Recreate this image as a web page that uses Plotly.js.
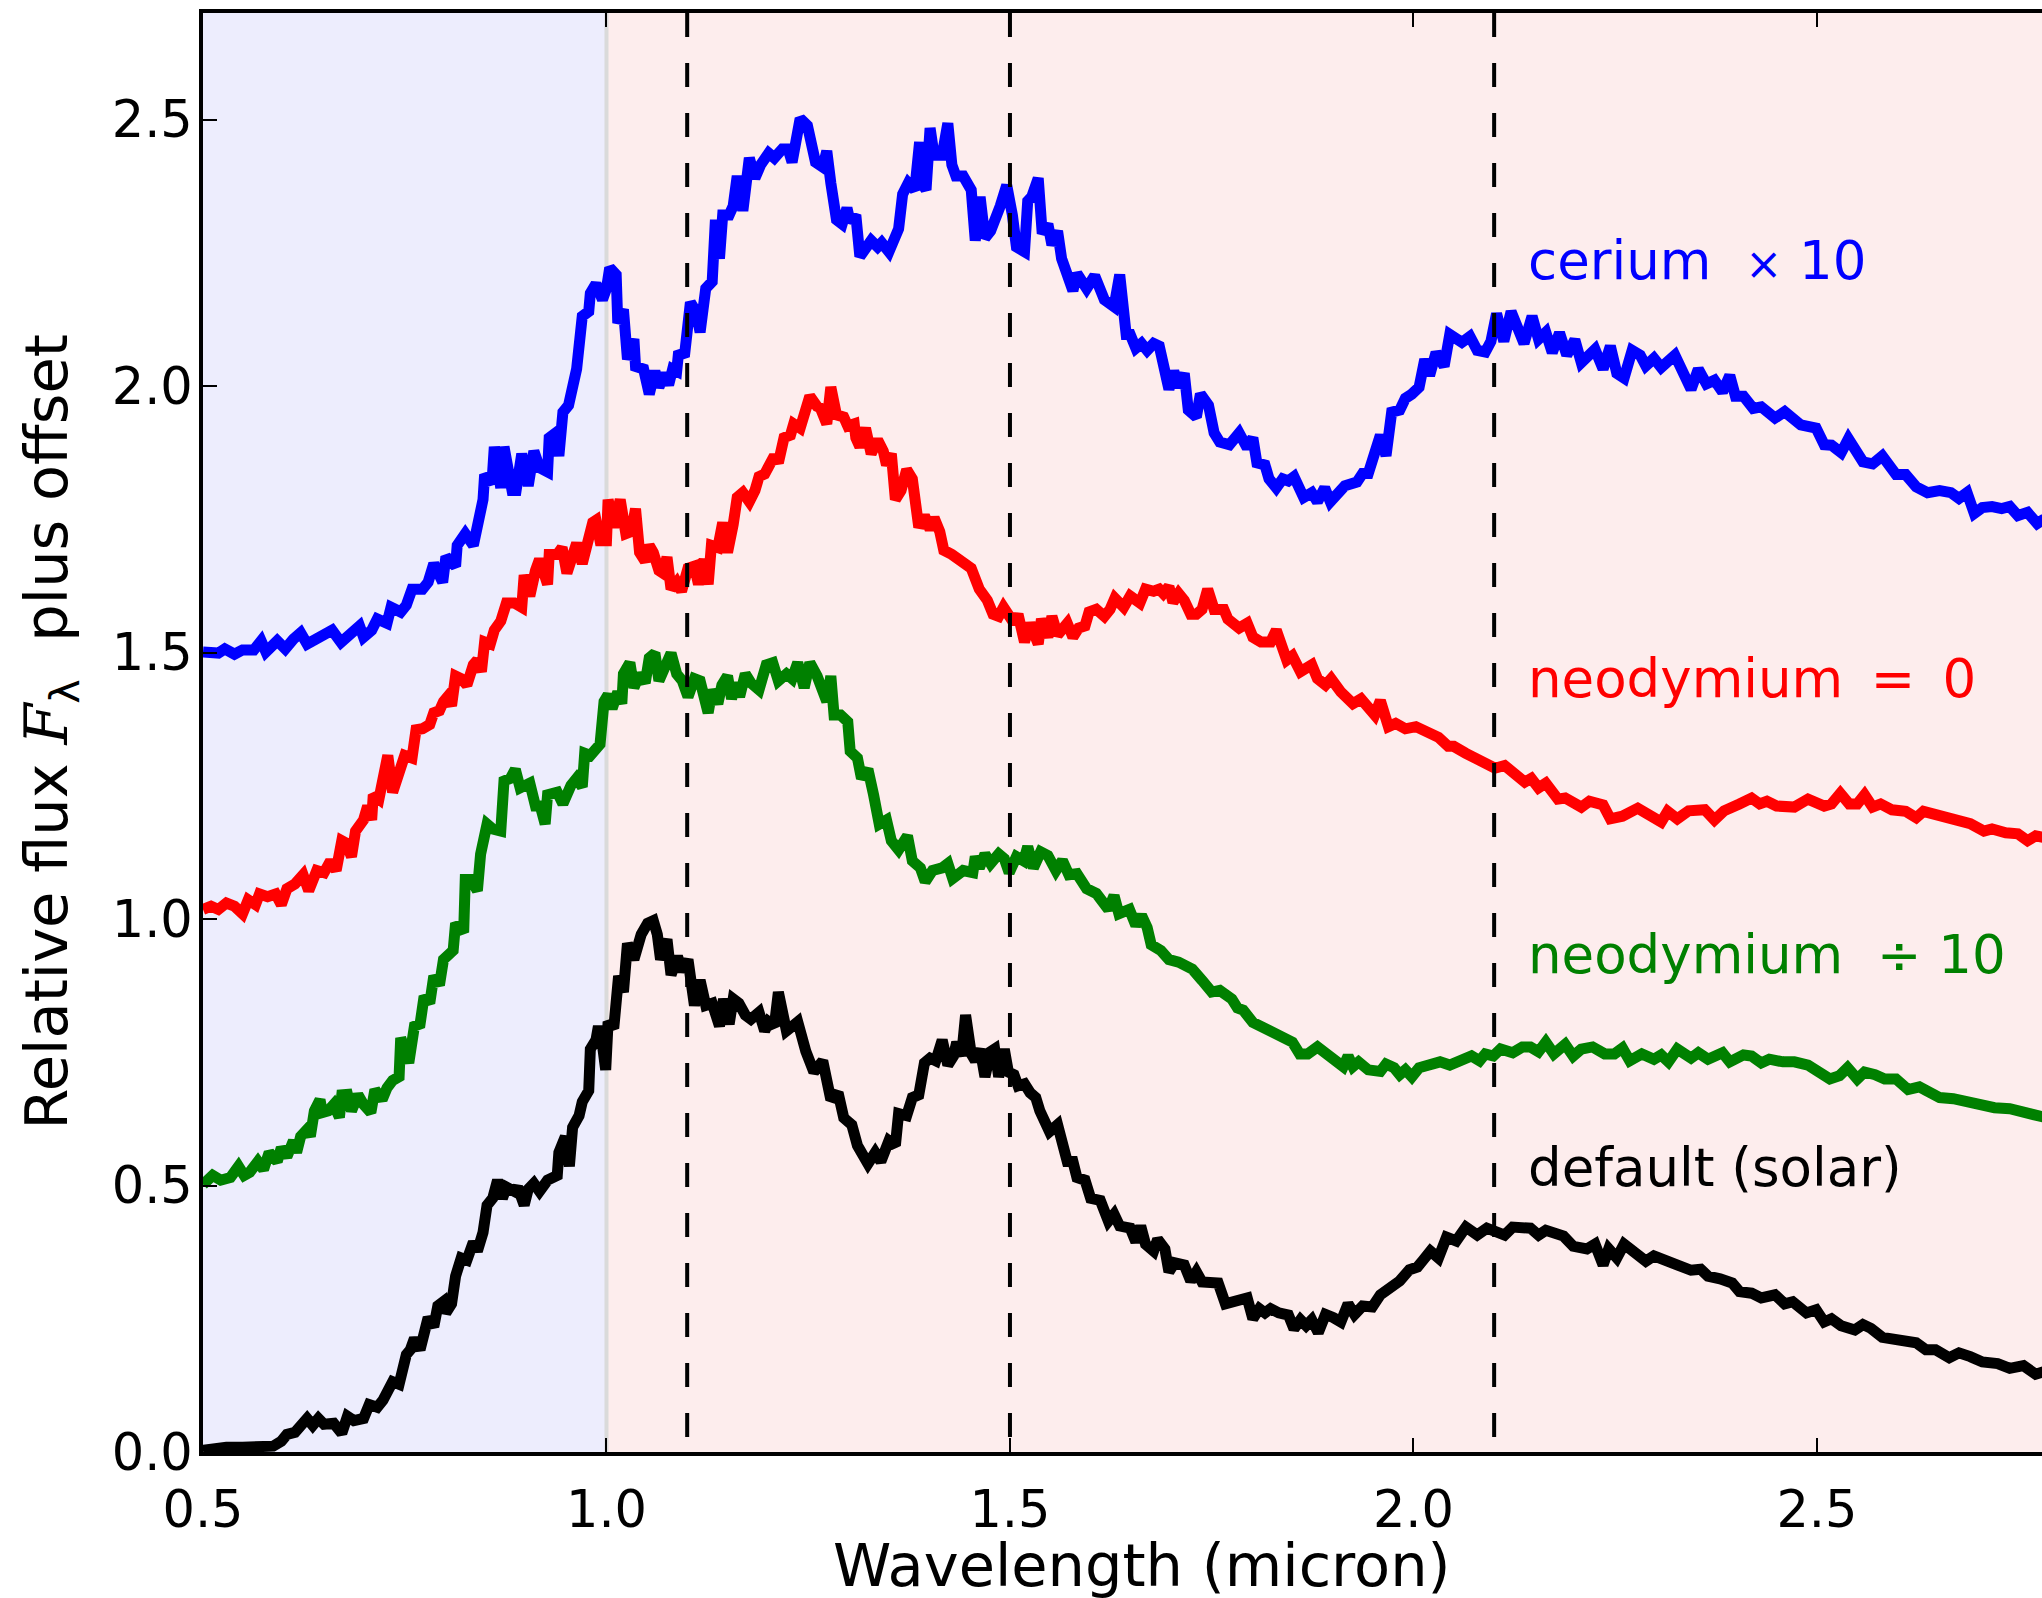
<!DOCTYPE html>
<html>
<head>
<meta charset="utf-8">
<script src="https://cdn.plot.ly/plotly-3.0.1.min.js"></script>
<style>
html,body{margin:0;padding:0;overflow:hidden;background:#fff;}
#chart{width:2080px;height:1598px;}
</style>
</head>
<body>
<div id="chart"></div>
<script>
// ---- data (wavelength in micron, relative flux plus offset) ----
const cerium = [[0.500,1.501],[0.519,1.499],[0.527,1.507],[0.539,1.497],[0.549,1.505],[0.563,1.505],[0.572,1.522],[0.578,1.501],[0.592,1.522],[0.602,1.507],[0.612,1.525],[0.621,1.537],[0.629,1.516],[0.641,1.527],[0.660,1.542],[0.671,1.519],[0.684,1.533],[0.694,1.550],[0.699,1.529],[0.709,1.542],[0.716,1.563],[0.728,1.555],[0.733,1.585],[0.745,1.576],[0.752,1.589],[0.759,1.619],[0.772,1.619],[0.779,1.632],[0.786,1.667],[0.797,1.632],[0.801,1.680],[0.813,1.662],[0.815,1.701],[0.825,1.723],[0.835,1.701],[0.840,1.731],[0.847,1.787],[0.849,1.834],[0.858,1.817],[0.861,1.886],[0.869,1.809],[0.873,1.886],[0.883,1.804],[0.888,1.804],[0.895,1.873],[0.903,1.813],[0.910,1.878],[0.917,1.847],[0.927,1.839],[0.929,1.903],[0.937,1.912],[0.941,1.869],[0.946,1.951],[0.953,1.964],[0.958,1.994],[0.963,2.032],[0.970,2.131],[0.978,2.140],[0.980,2.174],[0.987,2.192],[0.995,2.162],[1.000,2.183],[1.004,2.222],[1.012,2.209],[1.014,2.118],[1.021,2.144],[1.026,2.050],[1.034,2.088],[1.036,2.037],[1.046,2.032],[1.053,1.985],[1.060,2.028],[1.065,1.998],[1.072,2.024],[1.077,2.002],[1.082,2.032],[1.087,2.028],[1.089,2.058],[1.097,2.062],[1.104,2.157],[1.111,2.140],[1.116,2.101],[1.123,2.183],[1.131,2.196],[1.135,2.312],[1.140,2.239],[1.144,2.321],[1.152,2.321],[1.157,2.338],[1.162,2.394],[1.169,2.329],[1.177,2.428],[1.184,2.390],[1.191,2.415],[1.201,2.437],[1.208,2.428],[1.218,2.445],[1.225,2.445],[1.230,2.420],[1.240,2.502],[1.249,2.489],[1.259,2.420],[1.268,2.411],[1.273,2.441],[1.278,2.381],[1.285,2.312],[1.292,2.304],[1.298,2.334],[1.302,2.308],[1.309,2.321],[1.314,2.243],[1.321,2.256],[1.328,2.273],[1.336,2.261],[1.341,2.269],[1.350,2.252],[1.358,2.286],[1.362,2.295],[1.367,2.360],[1.374,2.381],[1.382,2.368],[1.388,2.458],[1.391,2.381],[1.396,2.368],[1.401,2.484],[1.406,2.433],[1.416,2.433],[1.423,2.493],[1.428,2.415],[1.433,2.394],[1.442,2.394],[1.447,2.377],[1.452,2.368],[1.457,2.273],[1.463,2.355],[1.469,2.278],[1.476,2.291],[1.488,2.338],[1.496,2.377],[1.503,2.321],[1.508,2.261],[1.518,2.252],[1.522,2.347],[1.527,2.355],[1.535,2.390],[1.540,2.286],[1.547,2.304],[1.552,2.265],[1.559,2.291],[1.564,2.239],[1.571,2.209],[1.578,2.179],[1.583,2.211],[1.595,2.183],[1.605,2.207],[1.617,2.162],[1.629,2.149],[1.636,2.209],[1.644,2.097],[1.649,2.097],[1.656,2.071],[1.663,2.080],[1.670,2.067],[1.678,2.080],[1.685,2.075],[1.690,2.045],[1.697,1.994],[1.703,2.028],[1.709,1.998],[1.716,2.024],[1.721,1.955],[1.731,1.942],[1.736,1.985],[1.746,1.964],[1.753,1.912],[1.760,1.895],[1.772,1.890],[1.784,1.912],[1.794,1.884],[1.801,1.903],[1.806,1.856],[1.816,1.852],[1.821,1.826],[1.830,1.809],[1.838,1.826],[1.845,1.822],[1.852,1.830],[1.864,1.791],[1.874,1.800],[1.881,1.783],[1.890,1.809],[1.897,1.783],[1.906,1.796],[1.915,1.813],[1.930,1.820],[1.937,1.836],[1.944,1.836],[1.952,1.873],[1.959,1.908],[1.966,1.869],[1.973,1.951],[1.983,1.955],[1.990,1.977],[1.998,1.985],[2.007,1.998],[2.014,2.050],[2.020,2.020],[2.028,2.063],[2.038,2.037],[2.045,2.097],[2.060,2.082],[2.070,2.093],[2.079,2.067],[2.089,2.064],[2.096,2.084],[2.103,2.136],[2.112,2.084],[2.121,2.140],[2.137,2.080],[2.147,2.131],[2.155,2.088],[2.164,2.101],[2.172,2.063],[2.181,2.100],[2.190,2.058],[2.200,2.087],[2.208,2.044],[2.225,2.069],[2.235,2.032],[2.244,2.075],[2.252,2.024],[2.261,2.015],[2.271,2.067],[2.281,2.058],[2.288,2.038],[2.298,2.052],[2.307,2.035],[2.324,2.058],[2.334,2.024],[2.344,1.994],[2.353,2.032],[2.363,2.004],[2.373,2.011],[2.383,1.989],[2.392,2.020],[2.399,1.981],[2.409,1.981],[2.421,1.958],[2.431,1.961],[2.448,1.940],[2.460,1.952],[2.480,1.927],[2.499,1.921],[2.509,1.890],[2.518,1.889],[2.530,1.875],[2.539,1.901],[2.557,1.858],[2.569,1.854],[2.581,1.869],[2.598,1.834],[2.610,1.834],[2.623,1.811],[2.637,1.800],[2.652,1.804],[2.666,1.800],[2.676,1.789],[2.686,1.800],[2.695,1.761],[2.705,1.772],[2.717,1.774],[2.729,1.770],[2.739,1.774],[2.749,1.757],[2.761,1.763],[2.773,1.742],[2.782,1.751]];

const neodymiumZero = [[0.500,1.018],[0.510,1.024],[0.519,1.018],[0.529,1.030],[0.539,1.024],[0.549,1.010],[0.556,1.036],[0.565,1.027],[0.570,1.047],[0.580,1.042],[0.590,1.047],[0.597,1.027],[0.604,1.057],[0.614,1.066],[0.624,1.083],[0.631,1.053],[0.641,1.091],[0.650,1.087],[0.658,1.109],[0.665,1.091],[0.672,1.147],[0.677,1.143],[0.684,1.117],[0.689,1.165],[0.699,1.186],[0.704,1.212],[0.709,1.186],[0.711,1.233],[0.718,1.225],[0.723,1.264],[0.729,1.307],[0.735,1.238],[0.743,1.285],[0.750,1.307],[0.759,1.302],[0.764,1.355],[0.772,1.357],[0.781,1.365],[0.786,1.387],[0.793,1.391],[0.798,1.408],[0.803,1.417],[0.808,1.400],[0.813,1.456],[0.820,1.451],[0.827,1.439],[0.835,1.477],[0.840,1.486],[0.845,1.464],[0.849,1.520],[0.856,1.516],[0.861,1.542],[0.869,1.559],[0.876,1.593],[0.886,1.593],[0.895,1.585],[0.898,1.645],[0.905,1.606],[0.912,1.654],[0.917,1.675],[0.927,1.628],[0.929,1.684],[0.939,1.684],[0.945,1.697],[0.951,1.649],[0.958,1.692],[0.963,1.705],[0.970,1.667],[0.975,1.701],[0.983,1.744],[0.987,1.748],[0.992,1.710],[1.000,1.710],[1.002,1.787],[1.009,1.735],[1.017,1.787],[1.024,1.723],[1.031,1.727],[1.036,1.770],[1.041,1.688],[1.048,1.671],[1.053,1.701],[1.058,1.688],[1.065,1.654],[1.070,1.649],[1.075,1.679],[1.080,1.619],[1.087,1.632],[1.093,1.615],[1.101,1.658],[1.109,1.662],[1.114,1.628],[1.121,1.675],[1.126,1.628],[1.130,1.701],[1.138,1.697],[1.144,1.744],[1.150,1.688],[1.157,1.740],[1.162,1.791],[1.169,1.800],[1.177,1.783],[1.184,1.804],[1.189,1.830],[1.196,1.835],[1.201,1.852],[1.208,1.869],[1.213,1.856],[1.220,1.903],[1.228,1.908],[1.232,1.929],[1.240,1.921],[1.245,1.942],[1.252,1.981],[1.261,1.962],[1.265,1.959],[1.273,1.929],[1.278,1.998],[1.285,1.946],[1.294,1.942],[1.299,1.925],[1.307,1.929],[1.309,1.903],[1.314,1.886],[1.321,1.921],[1.328,1.873],[1.336,1.899],[1.343,1.878],[1.347,1.852],[1.353,1.873],[1.358,1.787],[1.365,1.804],[1.372,1.843],[1.379,1.826],[1.387,1.735],[1.394,1.757],[1.401,1.731],[1.406,1.753],[1.413,1.727],[1.418,1.692],[1.428,1.684],[1.438,1.671],[1.452,1.658],[1.462,1.619],[1.472,1.598],[1.479,1.572],[1.486,1.568],[1.492,1.585],[1.498,1.568],[1.505,1.555],[1.510,1.572],[1.518,1.520],[1.525,1.555],[1.535,1.516],[1.539,1.563],[1.547,1.529],[1.552,1.568],[1.559,1.533],[1.571,1.555],[1.578,1.529],[1.585,1.546],[1.593,1.550],[1.598,1.576],[1.607,1.581],[1.617,1.568],[1.624,1.581],[1.630,1.602],[1.641,1.585],[1.649,1.606],[1.661,1.593],[1.668,1.619],[1.678,1.615],[1.685,1.619],[1.690,1.611],[1.697,1.624],[1.702,1.594],[1.709,1.611],[1.716,1.598],[1.724,1.572],[1.731,1.572],[1.738,1.581],[1.745,1.619],[1.753,1.581],[1.765,1.581],[1.770,1.563],[1.784,1.546],[1.794,1.555],[1.801,1.529],[1.811,1.520],[1.823,1.520],[1.830,1.542],[1.843,1.486],[1.850,1.494],[1.860,1.464],[1.874,1.477],[1.881,1.451],[1.891,1.439],[1.898,1.451],[1.910,1.426],[1.925,1.404],[1.935,1.413],[1.944,1.400],[1.952,1.383],[1.959,1.410],[1.969,1.361],[1.978,1.367],[1.990,1.357],[2.003,1.361],[2.020,1.350],[2.031,1.341],[2.043,1.324],[2.050,1.324],[2.065,1.311],[2.079,1.301],[2.091,1.288],[2.101,1.283],[2.113,1.288],[2.125,1.276],[2.138,1.257],[2.146,1.264],[2.155,1.246],[2.164,1.255],[2.179,1.225],[2.188,1.227],[2.208,1.210],[2.218,1.221],[2.235,1.214],[2.244,1.188],[2.259,1.193],[2.278,1.208],[2.293,1.195],[2.307,1.182],[2.315,1.202],[2.327,1.188],[2.341,1.203],[2.361,1.205],[2.373,1.186],[2.385,1.203],[2.404,1.216],[2.419,1.227],[2.429,1.216],[2.438,1.221],[2.450,1.212],[2.472,1.210],[2.489,1.225],[2.509,1.212],[2.518,1.216],[2.529,1.236],[2.540,1.216],[2.550,1.216],[2.559,1.233],[2.569,1.210],[2.579,1.216],[2.593,1.205],[2.610,1.202],[2.623,1.190],[2.632,1.202],[2.652,1.195],[2.666,1.192],[2.690,1.179],[2.707,1.165],[2.717,1.169],[2.734,1.162],[2.749,1.160],[2.761,1.147],[2.771,1.156],[2.782,1.153]];

const neodymiumDiv10 = [[0.500,0.502],[0.512,0.519],[0.522,0.510],[0.534,0.515],[0.544,0.536],[0.551,0.519],[0.558,0.525],[0.568,0.545],[0.575,0.530],[0.582,0.562],[0.592,0.545],[0.597,0.571],[0.604,0.554],[0.612,0.584],[0.616,0.562],[0.621,0.592],[0.629,0.605],[0.633,0.592],[0.638,0.640],[0.645,0.661],[0.648,0.637],[0.655,0.640],[0.662,0.652],[0.669,0.628],[0.672,0.670],[0.679,0.671],[0.684,0.640],[0.692,0.670],[0.699,0.652],[0.708,0.637],[0.713,0.680],[0.722,0.661],[0.728,0.683],[0.735,0.697],[0.743,0.704],[0.745,0.777],[0.750,0.756],[0.755,0.730],[0.762,0.799],[0.769,0.803],[0.774,0.855],[0.781,0.842],[0.786,0.893],[0.793,0.876],[0.798,0.924],[0.810,0.941],[0.813,0.992],[0.823,0.975],[0.825,1.074],[0.832,1.074],[0.840,1.053],[0.844,1.122],[0.852,1.178],[0.859,1.169],[0.869,1.165],[0.873,1.259],[0.881,1.264],[0.887,1.281],[0.893,1.246],[0.905,1.255],[0.912,1.212],[0.918,1.212],[0.924,1.178],[0.927,1.233],[0.939,1.238],[0.946,1.216],[0.956,1.251],[0.963,1.264],[0.970,1.248],[0.973,1.311],[0.980,1.307],[0.987,1.324],[0.992,1.328],[0.997,1.408],[1.002,1.421],[1.007,1.395],[1.014,1.426],[1.019,1.404],[1.021,1.460],[1.029,1.481],[1.034,1.434],[1.041,1.460],[1.048,1.443],[1.053,1.490],[1.060,1.499],[1.065,1.447],[1.072,1.477],[1.080,1.499],[1.087,1.460],[1.094,1.447],[1.101,1.417],[1.109,1.451],[1.116,1.447],[1.126,1.387],[1.131,1.430],[1.138,1.404],[1.143,1.439],[1.150,1.456],[1.155,1.413],[1.160,1.443],[1.165,1.417],[1.172,1.460],[1.179,1.443],[1.189,1.430],[1.198,1.477],[1.206,1.481],[1.213,1.447],[1.223,1.460],[1.230,1.451],[1.237,1.481],[1.245,1.434],[1.252,1.481],[1.261,1.456],[1.268,1.426],[1.273,1.408],[1.278,1.456],[1.282,1.383],[1.290,1.383],[1.299,1.370],[1.302,1.315],[1.311,1.302],[1.316,1.264],[1.324,1.281],[1.331,1.233],[1.338,1.178],[1.347,1.186],[1.353,1.147],[1.362,1.130],[1.373,1.156],[1.379,1.109],[1.389,1.096],[1.395,1.070],[1.404,1.091],[1.416,1.096],[1.423,1.104],[1.429,1.076],[1.442,1.091],[1.454,1.087],[1.457,1.117],[1.462,1.096],[1.469,1.122],[1.476,1.104],[1.486,1.122],[1.493,1.113],[1.499,1.087],[1.508,1.117],[1.517,1.109],[1.522,1.136],[1.529,1.096],[1.538,1.126],[1.547,1.119],[1.557,1.091],[1.565,1.110],[1.573,1.083],[1.583,1.085],[1.595,1.057],[1.607,1.048],[1.622,1.018],[1.629,1.044],[1.635,1.010],[1.648,1.018],[1.656,0.988],[1.663,1.007],[1.670,0.984],[1.675,0.952],[1.687,0.941],[1.697,0.924],[1.709,0.919],[1.726,0.906],[1.738,0.885],[1.750,0.863],[1.760,0.866],[1.775,0.850],[1.782,0.833],[1.789,0.829],[1.801,0.806],[1.816,0.795],[1.826,0.790],[1.838,0.780],[1.850,0.769],[1.859,0.747],[1.869,0.747],[1.881,0.760],[1.891,0.747],[1.906,0.728],[1.913,0.723],[1.919,0.743],[1.925,0.723],[1.932,0.732],[1.944,0.717],[1.959,0.714],[1.966,0.728],[1.976,0.721],[1.983,0.708],[1.990,0.717],[1.998,0.704],[2.007,0.721],[2.021,0.728],[2.033,0.732],[2.045,0.726],[2.060,0.737],[2.072,0.743],[2.082,0.734],[2.089,0.747],[2.099,0.743],[2.108,0.756],[2.123,0.749],[2.135,0.760],[2.145,0.760],[2.155,0.751],[2.164,0.769],[2.174,0.747],[2.188,0.765],[2.198,0.743],[2.208,0.756],[2.222,0.760],[2.237,0.747],[2.249,0.747],[2.259,0.758],[2.268,0.734],[2.283,0.747],[2.298,0.737],[2.307,0.745],[2.316,0.732],[2.327,0.756],[2.344,0.739],[2.353,0.749],[2.365,0.737],[2.383,0.749],[2.392,0.732],[2.409,0.745],[2.419,0.743],[2.431,0.730],[2.441,0.737],[2.458,0.732],[2.472,0.732],[2.489,0.726],[2.501,0.717],[2.516,0.700],[2.528,0.706],[2.538,0.721],[2.550,0.700],[2.559,0.713],[2.572,0.708],[2.584,0.700],[2.598,0.700],[2.613,0.680],[2.627,0.685],[2.640,0.674],[2.652,0.665],[2.669,0.663],[2.686,0.657],[2.705,0.654],[2.720,0.646],[2.739,0.644],[2.758,0.637],[2.782,0.628]];

const solarDefault = [[0.500,0.003],[0.515,0.007],[0.529,0.009],[0.549,0.009],[0.568,0.011],[0.587,0.011],[0.597,0.020],[0.604,0.033],[0.614,0.037],[0.624,0.050],[0.629,0.063],[0.636,0.050],[0.643,0.063],[0.650,0.052],[0.662,0.054],[0.672,0.035],[0.679,0.067],[0.687,0.059],[0.699,0.063],[0.706,0.089],[0.716,0.084],[0.723,0.097],[0.730,0.119],[0.735,0.132],[0.743,0.127],[0.747,0.162],[0.752,0.183],[0.757,0.192],[0.762,0.213],[0.769,0.192],[0.774,0.231],[0.779,0.252],[0.786,0.235],[0.791,0.274],[0.798,0.282],[0.801,0.261],[0.808,0.278],[0.813,0.330],[0.820,0.364],[0.827,0.360],[0.835,0.394],[0.840,0.377],[0.847,0.412],[0.852,0.463],[0.859,0.476],[0.865,0.510],[0.871,0.476],[0.876,0.497],[0.886,0.489],[0.890,0.497],[0.898,0.463],[0.903,0.493],[0.910,0.504],[0.917,0.489],[0.927,0.510],[0.939,0.519],[0.941,0.562],[0.949,0.592],[0.954,0.536],[0.958,0.609],[0.966,0.631],[0.970,0.657],[0.978,0.678],[0.980,0.756],[0.987,0.773],[0.990,0.799],[0.995,0.764],[0.999,0.717],[1.002,0.807],[1.009,0.795],[1.015,0.893],[1.021,0.863],[1.026,0.954],[1.034,0.924],[1.043,0.971],[1.051,0.992],[1.058,0.997],[1.063,0.971],[1.067,0.924],[1.075,0.962],[1.080,0.895],[1.088,0.930],[1.094,0.902],[1.101,0.924],[1.109,0.838],[1.116,0.885],[1.123,0.838],[1.131,0.842],[1.140,0.799],[1.145,0.850],[1.152,0.803],[1.157,0.850],[1.164,0.842],[1.172,0.820],[1.179,0.812],[1.189,0.825],[1.196,0.790],[1.201,0.807],[1.208,0.799],[1.213,0.863],[1.223,0.790],[1.237,0.807],[1.247,0.752],[1.257,0.713],[1.268,0.734],[1.278,0.661],[1.287,0.674],[1.294,0.627],[1.304,0.614],[1.311,0.575],[1.324,0.541],[1.333,0.562],[1.340,0.545],[1.350,0.584],[1.358,0.575],[1.362,0.635],[1.372,0.631],[1.379,0.665],[1.387,0.670],[1.394,0.730],[1.401,0.739],[1.408,0.734],[1.416,0.773],[1.423,0.726],[1.430,0.743],[1.434,0.769],[1.440,0.743],[1.445,0.820],[1.452,0.747],[1.457,0.734],[1.463,0.756],[1.469,0.704],[1.476,0.751],[1.481,0.756],[1.486,0.704],[1.493,0.756],[1.498,0.713],[1.505,0.708],[1.510,0.687],[1.518,0.691],[1.525,0.674],[1.532,0.665],[1.537,0.640],[1.544,0.622],[1.549,0.601],[1.559,0.614],[1.566,0.571],[1.571,0.545],[1.578,0.545],[1.583,0.515],[1.593,0.510],[1.600,0.476],[1.612,0.472],[1.622,0.433],[1.629,0.446],[1.636,0.424],[1.649,0.420],[1.656,0.394],[1.662,0.424],[1.668,0.390],[1.678,0.377],[1.683,0.399],[1.692,0.381],[1.697,0.338],[1.704,0.355],[1.716,0.351],[1.724,0.321],[1.731,0.338],[1.738,0.319],[1.758,0.317],[1.767,0.278],[1.779,0.282],[1.794,0.289],[1.801,0.250],[1.809,0.269],[1.816,0.261],[1.823,0.269],[1.833,0.261],[1.845,0.257],[1.852,0.231],[1.860,0.248],[1.867,0.237],[1.874,0.248],[1.882,0.224],[1.891,0.258],[1.901,0.252],[1.910,0.244],[1.919,0.278],[1.927,0.258],[1.937,0.274],[1.949,0.272],[1.959,0.295],[1.971,0.308],[1.983,0.321],[1.995,0.342],[2.005,0.347],[2.012,0.360],[2.021,0.377],[2.031,0.364],[2.041,0.403],[2.053,0.396],[2.065,0.422],[2.079,0.407],[2.091,0.420],[2.113,0.407],[2.123,0.422],[2.145,0.420],[2.155,0.407],[2.164,0.416],[2.176,0.407],[2.186,0.405],[2.198,0.386],[2.215,0.381],[2.225,0.390],[2.235,0.351],[2.242,0.381],[2.252,0.364],[2.261,0.390],[2.273,0.377],[2.288,0.358],[2.298,0.368],[2.312,0.360],[2.332,0.351],[2.344,0.341],[2.356,0.343],[2.365,0.330],[2.380,0.325],[2.395,0.317],[2.404,0.301],[2.419,0.298],[2.431,0.289],[2.448,0.295],[2.460,0.278],[2.470,0.282],[2.487,0.261],[2.499,0.267],[2.509,0.244],[2.518,0.250],[2.530,0.237],[2.547,0.229],[2.557,0.239],[2.567,0.232],[2.581,0.215],[2.603,0.209],[2.623,0.205],[2.635,0.192],[2.647,0.192],[2.664,0.177],[2.676,0.186],[2.690,0.179],[2.705,0.169],[2.724,0.166],[2.739,0.157],[2.756,0.162],[2.771,0.146],[2.782,0.151]];

const seriesNames  = ['cerium\u00a0\u00a0<span style="font-size:44px">×</span> 10', 'neodymium\u00a0\u2009=\u00a0\u20090', 'neodymium\u00a0\u00a0÷ 10', 'default (solar)'];
const seriesColors = ['#0000ff', '#ff0000', '#008000', '#000000'];
const labelY       = [2.235, 1.452, 0.933, 0.533];
const labelX       = 2.14;
const markerLines  = [1.1, 1.5, 2.1];
const opticalBand  = [0.5, 1.0];
const infraredBand = [1.0, 2.826];
const xTicks = [0.5, 1.0, 1.5, 2.0, 2.5];
const xTickText = ['0.5', '1.0', '1.5', '2.0', '2.5'];
const yTicks = [0.0, 0.5, 1.0, 1.5, 2.0, 2.5];
const yTickText = ['0.0', '0.5', '1.0', '1.5', '2.0', '2.5'];
const xTitle = 'Wavelength (micron)';
const yTitle = 'Relative flux <span style="font-family:\'DejaVu Serif\';font-style:italic">F</span><sub>λ</sub>\u00a0\u00a0plus offset';

const allSeries = [cerium, neodymiumZero, neodymiumDiv10, solarDefault];
const FONT = 'DejaVu Sans, Liberation Sans, sans-serif';

const traces = allSeries.map((s, i) => ({
  type: 'scatter', mode: 'lines',
  x: s.map(p => p[0]), y: s.map(p => p[1]),
  line: {color: seriesColors[i], width: 11},
  name: seriesNames[i], showlegend: false, hoverinfo: 'skip'
}));

const shapes = [
  {type:'rect', xref:'x', yref:'paper', x0: opticalBand[0], x1: opticalBand[1], y0:0, y1:1,
   fillcolor:'#ededfd', line:{width:0}, layer:'below'},
  {type:'rect', xref:'x', yref:'paper', x0: infraredBand[0], x1: infraredBand[1], y0:0, y1:1,
   fillcolor:'#fdeded', line:{width:0}, layer:'below'},
  {type:'line', xref:'x', yref:'paper', x0: opticalBand[1], x1: opticalBand[1], y0:0, y1:1,
   line:{color:'#dadada', width:4}, layer:'below'}
].concat(markerLines.map(v => ({
  type:'line', xref:'x', yref:'paper', x0:v, x1:v, y0:1, y1:0,
  line:{color:'#000', width:4, dash:'24px,26px'}, layer:'above'
})));

const annotations = seriesNames.map((t, i) => ({
  x: labelX, y: labelY[i], xref:'x', yref:'y', text: t, showarrow:false,
  xanchor:'left', yanchor:'middle', font:{family: FONT, size: 53, color: seriesColors[i]}
})).concat([
  {x:0.5, y:-0.0790, xref:'paper', yref:'paper', text:xTitle, showarrow:false, borderpad:0,
   xanchor:'center', yanchor:'middle', font:{family:FONT, size:59, color:'#000'}},
  {x:-0.0815, y:0.5, xref:'paper', yref:'paper', text:yTitle, showarrow:false, textangle:-90,
   xanchor:'center', yanchor:'middle', font:{family:FONT, size:59, color:'#000'}}
]);

const axisCommon = {
  showgrid:false, zeroline:false, showline:true, linecolor:'#000', linewidth:4,
  mirror:'ticks', ticks:'inside', ticklen:14, tickwidth:2, tickcolor:'#000',
  tickfont:{family: FONT, size: 51, color:'#000'}
};

const layout = {
  width: 2080, height: 1598, autosize:false,
  margin:{l:203, r:0, t:13, b:146, pad:0},
  paper_bgcolor:'#ffffff', plot_bgcolor:'#ffffff',
  showlegend:false,
  xaxis: Object.assign({}, axisCommon, {
    range:[0.5, 2.826], tickmode:'array', tickvals:xTicks, ticktext:xTickText,
    ticklabelstandoff: 10
  }),
  yaxis: Object.assign({}, axisCommon, {
    range:[0, 2.7], tickmode:'array', tickvals:yTicks, ticktext:yTickText,
    ticklabelstandoff: -4
  }),
  shapes: shapes,
  annotations: annotations
};

Plotly.newPlot('chart', traces, layout, {staticPlot:true, displayModeBar:false});
</script>
</body>
</html>
